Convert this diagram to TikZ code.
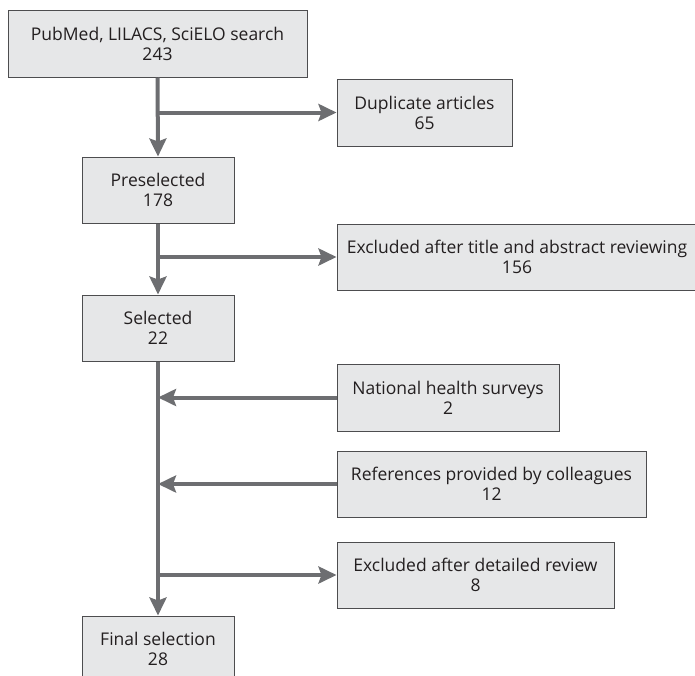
\documentclass[tikz,border=0pt]{standalone}
\usepackage{fontspec}
\setmainfont{Open Sans}
\usetikzlibrary{arrows.meta}
\definecolor{boxfill}{HTML}{E6E7E8}
\definecolor{boxline}{HTML}{4D4D4F}
\definecolor{arrcol}{HTML}{6D6E71}
\definecolor{txt}{HTML}{231F20}
\begin{document}
\begin{tikzpicture}[x=1pt,y=-1pt,
  fbox/.style={draw=boxline,line width=1pt,fill=boxfill,inner sep=0pt,
    minimum height=66pt,align=center,font=\fontsize{17.5}{20}\selectfont,text=txt},
  arr/.style={draw=arrcol,line width=4pt,-{Stealth[length=18pt,width=17pt,inset=3pt]}},
  ln/.style={draw=arrcol,line width=4pt}]
\useasboundingbox (0,0) rectangle (695,675);
\node[fbox,minimum width=299pt,minimum height=67pt] (A) at (157.5,43.5) {PubMed, LILACS, SciELO search\\243};
\node[fbox,minimum width=175pt,minimum height=67pt] (Dup) at (424.5,112.5) {Duplicate articles\\65};
\node[fbox,minimum width=152pt] (Pre) at (158,190) {Preselected\\178};
\node[fbox,minimum width=360pt] (ExT) at (517,257) {Excluded after title and abstract reviewing\\156};
\node[fbox,minimum width=152pt] (Sel) at (158,328) {Selected\\22};
\node[fbox,minimum width=222pt,minimum height=67pt] (Nat) at (448,397.5) {National health surveys\\2};
\node[fbox,minimum width=309pt] (Ref) at (491.5,484) {References provided by colleagues\\12};
\node[fbox,minimum width=277pt] (ExD) at (475.5,575) {Excluded after detailed review\\8};
\node[fbox,minimum width=152pt] (Fin) at (158,649) {Final selection\\28};
\draw[arr] (A.south) -- (Pre.north);
\draw[arr] (A.south |- Dup.west) -- (Dup.west);
\draw[arr] (Pre.south) -- (Sel.north);
\draw[arr] (Pre.south |- ExT.west) -- (ExT.west);
\draw[arr] (Sel.south) -- (Fin.north);
\draw[arr] (Nat.west) -- (Sel.south |- Nat.west);
\draw[arr] (Ref.west) -- (Sel.south |- Ref.west);
\draw[arr] (Sel.south |- ExD.west) -- (ExD.west);
\end{tikzpicture}
\end{document}
